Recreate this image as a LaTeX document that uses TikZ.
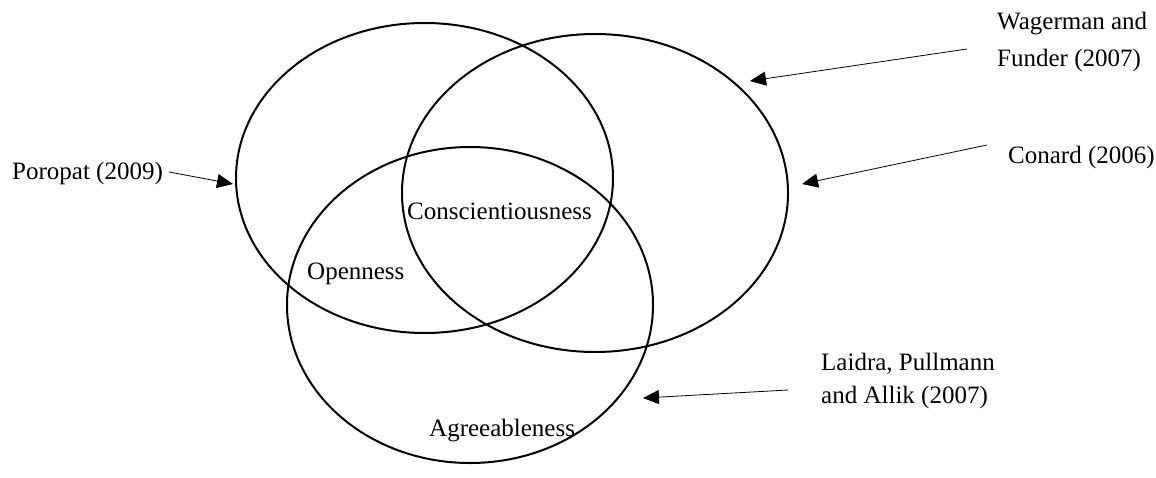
\documentclass[tikz,border=0pt]{standalone}
\usepackage{fontspec}
\setmainfont{Liberation Serif}
\usetikzlibrary{arrows.meta}
\begin{document}
\begin{tikzpicture}[x=1pt,y=-1pt,
  lab/.style={inner sep=0pt,font=\fontsize{25}{37}\selectfont},
  circ/.style={line width=2pt},
  ref/.style={line width=0.8pt,-{Triangle[length=16pt,width=14pt]}}]
\useasboundingbox (0,0) rectangle (1156,477);
% ellipses
\draw[circ] (424.5,178) ellipse [x radius=188.5pt, y radius=155pt];
\draw[circ] (595,193) ellipse [x radius=193pt, y radius=159pt];
\draw[circ] (470,305) ellipse [x radius=183pt, y radius=158pt];
% inner labels
\node[lab,anchor=base west] (consc) at (407,219) {Conscientiousness};
\node[lab,anchor=base west] (open) at (307,279) {Openness};
\node[lab,anchor=base west] (agree) at (429,436) {Agreeableness};
% references
\node[lab,anchor=base west] (poro) at (12,179) {Poropat (2009)};
\node[lab,anchor=north west,align=left] (wag) at (997,12) {Wagerman and\\Funder (2007)};
\node[lab,anchor=base west] (conard) at (1008,163) {Conard (2006)};
\node[lab,anchor=north west,align=left,font=\fontsize{25}{33}\selectfont] (lai) at (821,353) {Laidra, Pullmann\\and Allik (2007)};
% arrow tips
\coordinate (poroT) at (233,184);
\coordinate (wagT) at (750,81);
\coordinate (conT) at (802,184);
\coordinate (laiT) at (643,398);
\draw[ref] ([shift={(6,-7)}]poro.base east) -- (poroT);
\draw[ref] ([shift={(-30,37)}]wag.north west) -- (wagT);
\draw[ref] ([shift={(-21,-18)}]conard.base west) -- (conT);
\draw[ref] ([shift={(-33,37)}]lai.north west) -- (laiT);
\end{tikzpicture}
\end{document}
